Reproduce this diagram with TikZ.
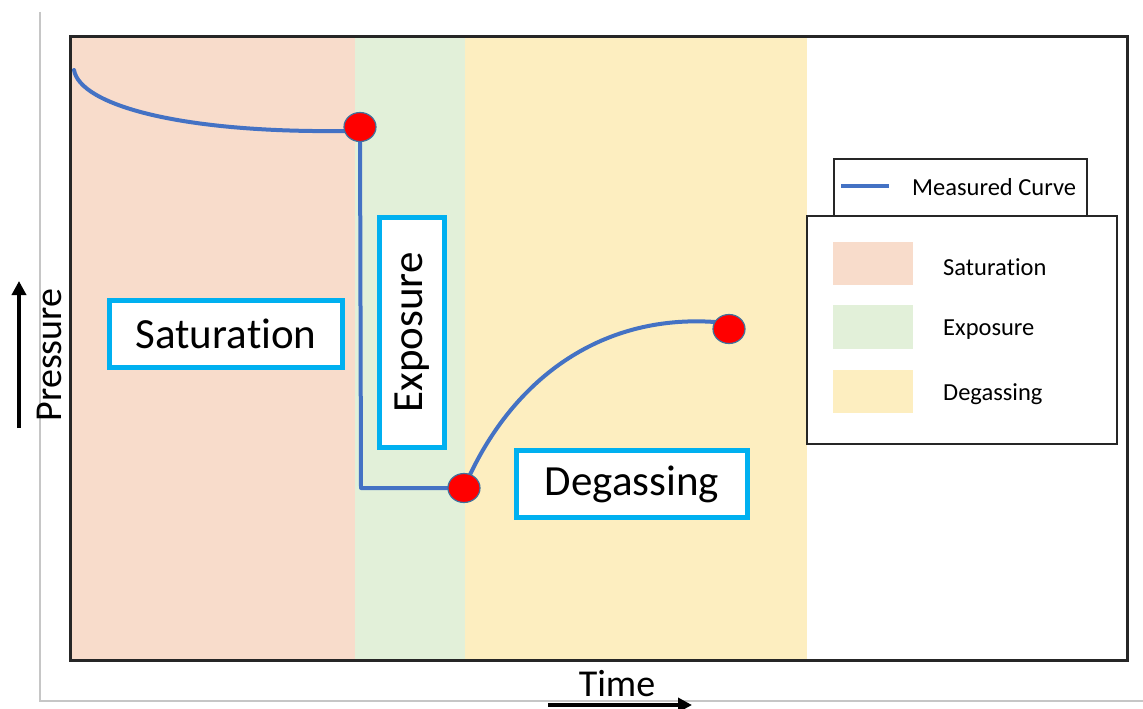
\documentclass[tikz,border=0pt]{standalone}
\usepackage{fontspec}
\setmainfont{Carlito}[RawFeature={-liga;-clig;-dlig;-calt}]
\usetikzlibrary{arrows.meta,shapes.geometric}
\definecolor{satc}{HTML}{F8DCCB}
\definecolor{expc}{HTML}{E2F0D9}
\definecolor{degc}{HTML}{FDEEC0}
\definecolor{curvec}{HTML}{4472C4}
\definecolor{cyanb}{HTML}{00B0F0}
\definecolor{framec}{HTML}{262626}
\definecolor{dotedge}{HTML}{41719C}
\begin{document}
\begin{tikzpicture}[x=1pt,y=-1pt,
  labelbox/.style={draw=cyanb,line width=5pt,fill=white,inner sep=0pt,font=\fontsize{43}{50}\selectfont},
  reddot/.style={ellipse,fill=red,draw=dotedge,line width=1.2pt,minimum width=32pt,minimum height=29pt,inner sep=0pt},
  curve/.style={draw=curvec,line width=4pt},
  legbox/.style={draw=framec,line width=2pt,fill=white},
  legtext/.style={anchor=west,inner sep=0pt,font=\fontsize{24.5}{28}\selectfont},
  axtext/.style={inner sep=0pt,font=\fontsize{38}{44}\selectfont},
  axarrow/.style={line width=4pt,-{Triangle[length=14pt,width=14pt]}}]
\useasboundingbox (0,0) rectangle (1143,709);
\clip (0,0) rectangle (1143,709);
% outer gray frame
\draw[gray!45,line width=1.2pt] (40,12) -- (40,701) -- (1143,701);
% phase bands
\fill[satc] (70,37) rectangle (355,660);
\fill[expc] (355,37) rectangle (465,660);
\fill[degc] (465,37) rectangle (807,660);
\draw[framec,line width=3pt] (70,37) rectangle (1127,660);
% curve
\coordinate (s0) at (74,70);
\coordinate (p1) at (360,127);
\coordinate (k1) at (361,488);
\coordinate (p2) at (464,488);
\coordinate (p3) at (729,329);
\draw[curve,line cap=round] (s0) .. controls (80,105) and (180,133) .. (345,131) -- (p1);
\draw[curve,line join=round] (p1) -- (k1) -- (p2);
\draw[curve] (p2) .. controls (510,380) and (600,314) .. (715,322) -- (p3);
\node[reddot] (dot1) at (p1) {};
\node[reddot] (dot2) at (p2) {};
\node[reddot] (dot3) at (p3) {};
% phase labels
\node[labelbox,minimum width=233pt,minimum height=67pt] (lsat) at (226,333.5) {Satura\kern0pt tion};
\node[labelbox,rotate=90,minimum width=230pt,minimum height=65pt] (lexp) at (412,332.5) {Exposure};
\node[labelbox,minimum width=231pt,minimum height=67pt] (ldeg) at (632,484) {Degassing};
% legend
\node[legbox,minimum width=253pt,minimum height=57pt,anchor=north west] (leg1) at (833,158) {};
\coordinate (ll1) at (841,186);
\coordinate (ll2) at (889,186);
\draw[curvec,line width=3.5pt] (ll1) -- (ll2);
\node[legtext] (tmc) at (912,187) {Measured Curve};
\node[legbox,minimum width=310pt,minimum height=228pt,anchor=north west] (leg2) at (806,215) {};
\node[fill=satc,minimum width=80pt,minimum height=43pt,inner sep=0pt,anchor=north west] (sw1) at (833,242) {};
\node[fill=expc,minimum width=80pt,minimum height=44pt,inner sep=0pt,anchor=north west] (sw2) at (833,305) {};
\node[fill=degc,minimum width=80pt,minimum height=43pt,inner sep=0pt,anchor=north west] (sw3) at (833,370) {};
\node[legtext] (t1) at (943,267) {Satura\kern0pt tion};
\node[legtext] (t2) at (943,330) {Exposure};
\node[legtext] (t3) at (943,394) {Degassing};
% axes
\node[axtext,rotate=90] (press) at (49,355) {Pressure};
\coordinate (pa1) at (19,428);
\coordinate (pa2) at (19,281);
\draw[axarrow] (pa1) -- (pa2);
\node[axtext] (time) at (617,684) {Time};
\coordinate (ta1) at (548,705);
\coordinate (ta2) at (692,705);
\draw[axarrow] (ta1) -- (ta2);
\end{tikzpicture}
\end{document}
